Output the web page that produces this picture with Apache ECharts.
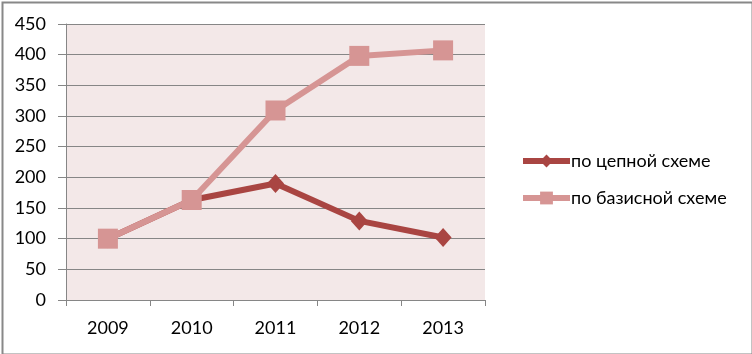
<!DOCTYPE html>
<html>
<head>
<meta charset="utf-8">
<script src="https://cdn.jsdelivr.net/npm/echarts@6/dist/echarts.min.js"></script>
<style>
html,body{margin:0;padding:0;background:#fff;}
#c{width:752px;height:354px;}
</style>
</head>
<body>
<div id="c"></div>
<script>
const categories = ['2009', '2010', '2011', '2012', '2013'];
const chainValues = [100, 163, 190, 129, 102];
const baseValues = [100, 163, 309, 398, 407];
const seriesNames = ['по цепной схеме', 'по базисной схеме'];

const chart = echarts.init(document.getElementById('c'));
const font = 'Lato, "Open Sans", sans-serif';
chart.setOption({
  animation: false,
  backgroundColor: '#fff',
  graphic: [{
    type: 'rect', left: 0, top: 0, z: 100, silent: true,
    shape: { x: 1, y: 1, width: 750, height: 352 },
    style: { fill: 'none', stroke: '#888', lineWidth: 2 }
  }],
  grid: { left: 66, right: 267, top: 24, bottom: 54, show: true, backgroundColor: '#F3E8E8', borderWidth: 0 },
  legend: {
    orient: 'vertical', left: 515, top: 147, itemGap: 19,
    itemWidth: 47, itemHeight: 16,
    lineStyle: { width: 6 },
    textStyle: { fontFamily: font, fontSize: 18, color: '#000', padding: [0,0,0,-4] },
    data: seriesNames
  },
  xAxis: {
    type: 'category', data: categories, boundaryGap: true,
    axisLine: { lineStyle: { color: '#868686', width: 1 } },
    axisTick: { show: true, length: 6, inside: false, lineStyle: { color: '#868686' } },
    axisLabel: { fontFamily: font, fontSize: 18, color: '#000', margin: 19 }
  },
  yAxis: {
    type: 'value', min: 0, max: 450, interval: 50,
    axisLine: { show: true, lineStyle: { color: '#868686', width: 1 } },
    axisTick: { show: true, length: 8, lineStyle: { color: '#868686' } },
    axisLabel: { fontFamily: font, fontSize: 18, color: '#000', margin: 20 },
    splitLine: { lineStyle: { color: '#868686', width: 1 } }
  },
  series: [
    {
      name: seriesNames[0], type: 'line', data: chainValues,
      symbol: 'diamond', symbolSize: [17, 19],
      lineStyle: { color: '#A94542', width: 6 },
      itemStyle: { color: '#A94542' }, z: 2
    },
    {
      name: seriesNames[1], type: 'line', data: baseValues,
      symbol: 'rect', symbolSize: 20,
      lineStyle: { color: '#D69594', width: 6 },
      itemStyle: { color: '#D69594' }, z: 3
    }
  ]
});
</script>
</body>
</html>
